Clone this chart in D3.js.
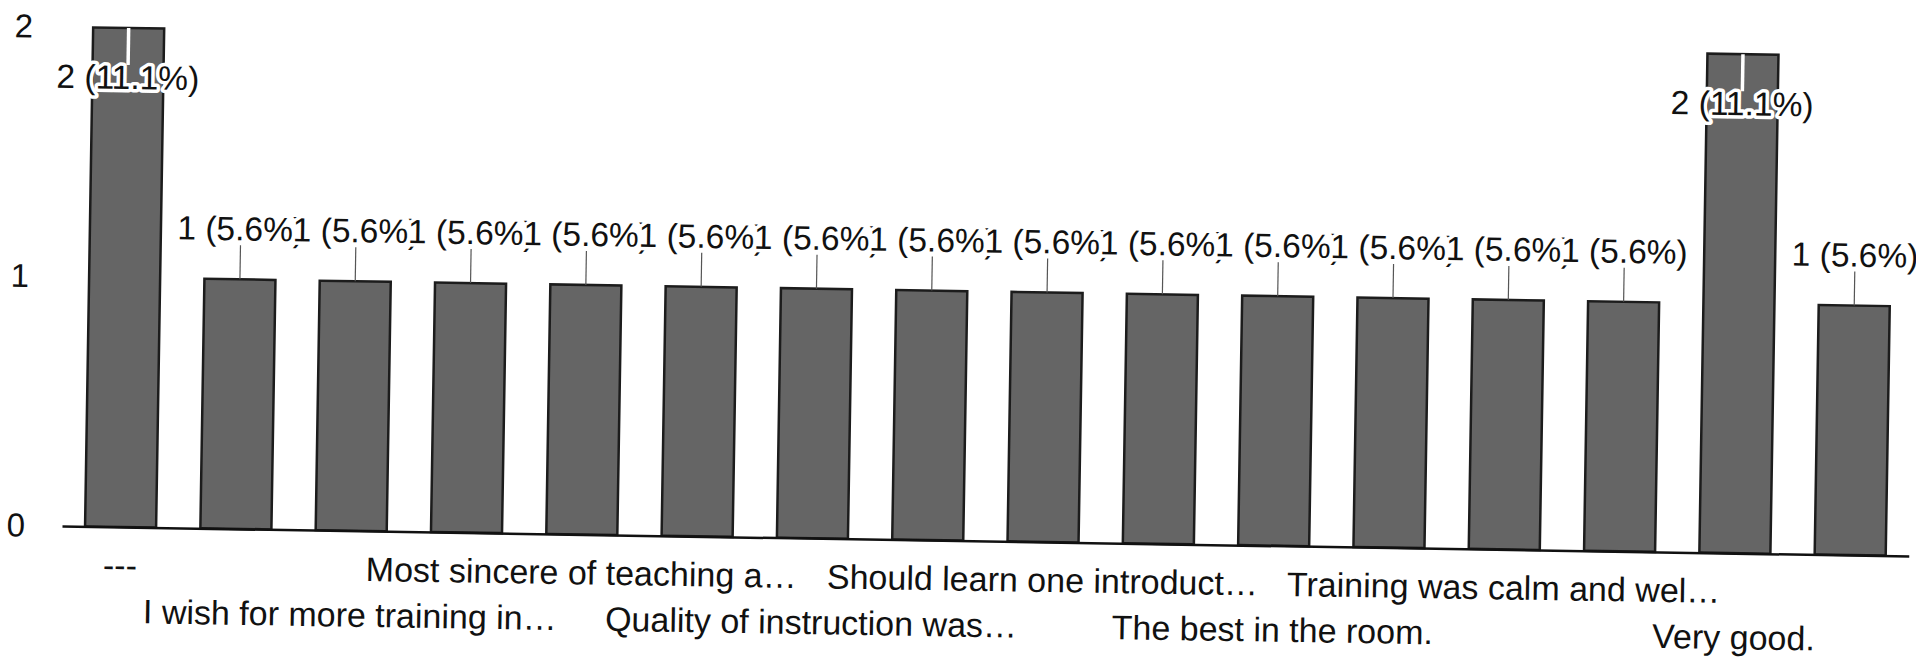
<!DOCTYPE html>
<html>
<head>
<meta charset="utf-8">
<script src="https://cdn.jsdelivr.net/npm/d3@7/dist/d3.min.js"></script>
<style>
  html, body { margin: 0; padding: 0; background: #fff; overflow: hidden; }
  svg { display: block; font-family: "Liberation Sans", Arial, sans-serif; }
</style>
</head>
<body>
<script>
// Responses per answer (every other label is shown on the axis)
const categories = [
  "---", "", "I wish for more training in…", "", "Most sincere of teaching a…", "",
  "Quality of instruction was…", "", "Should learn one introduct…", "",
  "The best in the room.", "", "Training was calm and wel…", "", "Very good.", ""
];
const counts = [2, 1, 1, 1, 1, 1, 1, 1, 1, 1, 1, 1, 1, 1, 2, 1];
const yTicks = [0, 1, 2];

const W = 1916, H = 657;
const total = d3.sum(counts);
const pct = d3.format(".1%");

const svg = d3.select("body").append("svg")
  .attr("width", W).attr("height", H);

// the printed page sits slightly askew
const g = svg.append("g").attr("transform", "rotate(0.93, 62, 526)");

const x = d3.scaleBand()
  .domain(d3.range(categories.length))
  .range([62, 1909])
  .paddingInner(0.384)
  .paddingOuter(0.2);

const y = d3.scaleLinear().domain([0, 2]).range([526, 27]);

// y axis labels
const yAxis = d3.axisLeft(y).tickValues(yTicks).tickSize(0).tickPadding(0).tickFormat(d3.format("d"));
const ya = g.append("g").attr("transform", "translate(25,0)").call(yAxis);
ya.select(".domain").remove();
ya.selectAll("text")
  .attr("font-family", "Liberation Sans, Arial, sans-serif")
  .attr("font-size", 33).attr("fill", "#111");

// bars
g.append("g").selectAll("rect")
  .data(counts)
  .join("rect")
  .attr("x", (d, i) => x(i))
  .attr("y", d => y(d))
  .attr("width", x.bandwidth())
  .attr("height", d => y(0) - y(d))
  .attr("fill", "#656565")
  .attr("stroke", "#1c1c1c")
  .attr("stroke-width", 2.5);

// baseline
const xAxis = d3.axisBottom(x).tickSize(0).tickSizeOuter(0).tickFormat("");
const xa = g.append("g").attr("transform", `translate(0,${y(0)})`).call(xAxis);
xa.select(".domain").attr("stroke", "#111").attr("stroke-width", 2.5);

// category labels, staggered on two lines
g.append("g").selectAll("text")
  .data(categories)
  .join("text")
  .attr("x", (d, i) => x(i) + x.bandwidth() / 2)
  .attr("y", (d, i) => y(0) + ((i / 2) % 2 === 0 ? 50 : 96))
  .attr("text-anchor", "middle")
  .attr("font-size", 34)
  .attr("fill", "#111")
  .text(d => d);

// value labels with leader lines
const labels = g.append("g");
counts.forEach((v, i) => {
  const cx = x(i) + x.bandwidth() / 2;
  const top = y(v);
  const inside = v === d3.max(counts);
  const base = inside ? top + 61 : top - 39;
  labels.append("line")
    .attr("x1", cx).attr("x2", cx)
    .attr("y1", top).attr("y2", inside ? base - 24 : base + 5)
    .attr("stroke", inside ? "#fff" : "#555")
    .attr("stroke-width", inside ? 3.5 : 1.2);
  labels.append("text")
    .attr("x", cx).attr("y", base)
    .attr("text-anchor", "middle")
    .attr("font-size", 33.5)
    .attr("fill", "#111")
    .attr("stroke", "#fff")
    .attr("stroke-width", 7)
    .attr("stroke-linejoin", "round")
    .attr("paint-order", "stroke")
    .text(`${v} (${pct(v / total)})`);
});
</script>
</body>
</html>
